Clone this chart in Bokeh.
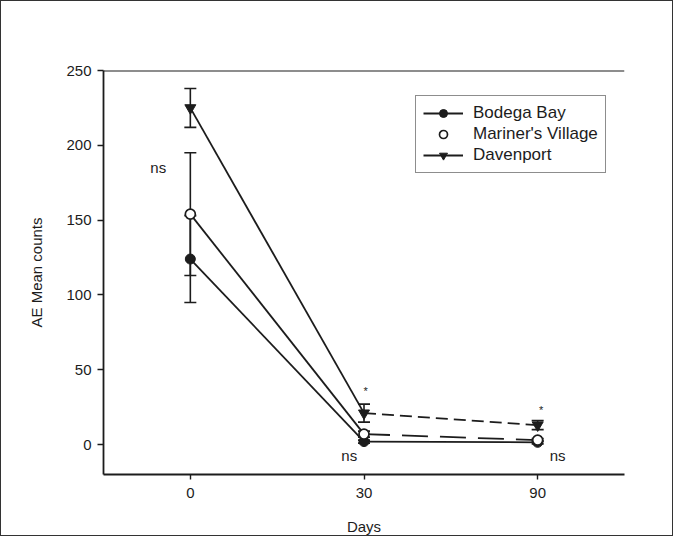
from bokeh.plotting import figure
from bokeh.models import (ColumnDataSource, Whisker, TeeHead, Legend, LegendItem,
                          FixedTicker, Span, Range1d)
from bokeh.core.properties import value
from bokeh.embed import file_html
from bokeh.resources import INLINE

# ---- data ----
days = ["0", "30", "90"]
bodega = [124, 2, 1.5]
bodega_err = [29, 1, 1]
mariners = [154, 7, 3]
mariners_err = [41, 2, 1]
davenport = [225, 21, 13]
davenport_err = [13, 6, 3]

y_ticks = [0, 50, 100, 150, 200, 250]

note_x = [-0.185, 0.915, 2.115]
note_y = [185, -7, -7.5]
note_text = ["ns", "ns", "ns"]
star_x = [1.01, 2.02]
star_y = [36, 23]
star_text = ["*", "*"]

FONT = "Liberation Sans"
INK = "#1c1c1c"

idx = list(range(len(days)))

p = figure(width=673, height=536, output_backend="svg", toolbar_location=None,
           x_range=Range1d(-0.5, 2.5), y_range=Range1d(-20, 250))
p.styles = {"border": "1.5px solid #333"}
p.min_border_left = 102
p.min_border_right = 50
p.min_border_top = 69
p.min_border_bottom = 63
p.xgrid.visible = False
p.ygrid.visible = False
p.outline_line_color = None
p.background_fill_color = "white"
p.border_fill_color = "white"

# axes
for ax in (p.xaxis[0], p.yaxis[0]):
    ax.axis_line_color = INK
    ax.axis_line_width = 1.8
    ax.major_tick_line_color = INK
    ax.major_tick_line_width = 1.4
    ax.major_tick_in = 0
    ax.major_tick_out = 6
    ax.minor_tick_line_color = None
    ax.major_label_text_font = FONT
    ax.major_label_text_font_size = "15px"
    ax.major_label_text_color = INK
    ax.axis_label_text_font = FONT
    ax.axis_label_text_font_size = "15px"
    ax.axis_label_text_font_style = "normal"
    ax.axis_label_text_color = INK

p.xaxis[0].ticker = FixedTicker(ticks=idx)
p.xaxis[0].major_label_overrides = {i: d for i, d in zip(idx, days)}
p.xaxis[0].major_tick_out = 5
p.xaxis[0].major_label_standoff = 8
p.xaxis[0].axis_label = "Days"
p.xaxis[0].axis_label_standoff = 17

p.yaxis[0].ticker = FixedTicker(ticks=y_ticks)
p.yaxis[0].major_label_standoff = 6
p.yaxis[0].axis_label = "AE Mean counts"
p.yaxis[0].axis_label_standoff = 18

# top frame line
p.add_layout(Span(location=250, dimension="width", line_color=INK, line_width=1.8))

def seg(vals, a, b):
    return idx[a:b], vals[a:b]

LW = 1.8
# lines day 0 -> 30 (solid)
r_bb_line = p.line(*seg(bodega, 0, 2), line_color=INK, line_width=LW)
p.line(*seg(mariners, 0, 2), line_color=INK, line_width=LW)
r_dv_line = p.line(*seg(davenport, 0, 2), line_color=INK, line_width=LW)
# lines day 30 -> 90
p.line(*seg(bodega, 1, 3), line_color=INK, line_width=LW)
p.line(*seg(mariners, 1, 3), line_color=INK, line_width=LW, line_dash="26 12")
p.line(*seg(davenport, 1, 3), line_color=INK, line_width=LW, line_dash="12 6")

# error bars
for vals, errs in ((bodega, bodega_err), (mariners, mariners_err), (davenport, davenport_err)):
    src = ColumnDataSource(dict(x=idx,
                                upper=[v + e for v, e in zip(vals, errs)],
                                lower=[v - e for v, e in zip(vals, errs)]))
    w = Whisker(base="x", upper="upper", lower="lower", source=src,
                line_color=INK, line_width=1.6,
                upper_head=TeeHead(size=12, line_color=INK, line_width=1.6),
                lower_head=TeeHead(size=12, line_color=INK, line_width=1.6))
    p.add_layout(w)

# markers
r_bb = p.scatter(idx, bodega, marker="circle", size=10, fill_color=INK, line_color=INK)
r_mv = p.scatter(idx, mariners, marker="circle", size=10, fill_color="white",
                 line_color=INK, line_width=1.7)
r_dv = p.scatter(idx, davenport, marker="inverted_triangle", size=11, fill_color=INK,
                 line_color=INK)

# annotations
p.text(note_x, note_y, text=note_text, text_font=value(FONT), text_font_size="15px",
       text_color=INK, text_align="center", text_baseline="middle")
p.text(star_x, star_y, text=star_text, text_font=value(FONT), text_font_size="11px",
       text_color=INK, text_align="center", text_baseline="middle")

legend = Legend(items=[
    LegendItem(label="Bodega Bay", renderers=[r_bb_line, r_bb]),
    LegendItem(label="Mariner's Village", renderers=[r_mv]),
    LegendItem(label="Davenport", renderers=[r_dv_line, r_dv]),
], location=(312, 301))
legend.label_text_font = FONT
legend.label_text_font_size = "17px"
legend.label_text_color = INK
legend.glyph_width = 40
legend.glyph_height = 20
legend.label_height = 20
legend.label_standoff = 10
legend.spacing = 1
legend.padding = 7
legend.margin = 0
legend.border_line_color = INK
legend.border_line_width = 1.5
legend.background_fill_alpha = 1.0
p.add_layout(legend)

open("out.html", "w").write(file_html(p, INLINE))
